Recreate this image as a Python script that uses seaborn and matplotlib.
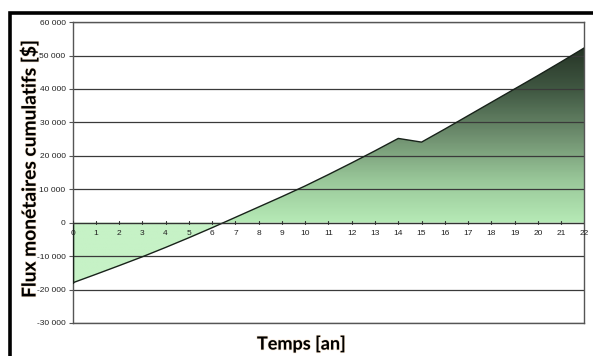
import numpy as np
import pandas as pd
import matplotlib
matplotlib.use("Agg")
import matplotlib.pyplot as plt
import matplotlib.patheffects as pe
import seaborn as sns
from matplotlib.colors import LinearSegmentedColormap, to_rgb
from matplotlib.patches import Rectangle
from matplotlib.ticker import FuncFormatter

# cumulative cash flow per year
years = list(range(0, 23))
cumul = [-18000, -15450, -12850, -10200, -7400, -4500, -1500, 1600, 4700, 7800,
         11000, 14400, 17900, 21500, 25200, 24100, 28000, 32000, 36000, 40000,
         44000, 48100, 52300]
y_ticks = [-30000, -20000, -10000, 0, 10000, 20000, 30000, 40000, 50000, 60000]

df = pd.DataFrame({"annee": years, "flux": cumul})

sns.set_style("white")
plt.rcParams['font.family'] = ['Liberation Sans', 'DejaVu Sans']

fig = plt.figure(figsize=(5.93, 3.56), dpi=100)
ax = fig.add_axes([0.1223, 0.0927, 0.8632, 0.8453])

# outer black frame
fig.patches.append(Rectangle((0.017, -0.05), 1.1, 1.05 - 13 / 356, transform=fig.transFigure,
                             fill=False, edgecolor='black', linewidth=2.6, zorder=0))

ax.set_xlim(0, 22)
ax.set_ylim(-30000, 60000)

# gradient fill under the curve
ny = 400
yy = np.linspace(-30000, 60000, ny)
cmap = LinearSegmentedColormap.from_list("vert", ["#b6eab6", "#98c698", "#6e8e6e", "#425a44", "#263426"])
top = max(cumul)
img = np.zeros((ny, 2, 3))
for i, v in enumerate(yy):
    if v < 0:
        c = to_rgb("#c6f2c6")
    else:
        c = cmap(min(v / top, 1.0))[:3]
    img[i, :, :] = c
im = ax.imshow(img, extent=[0, 22, -30000, 60000], origin='lower', aspect='auto', zorder=1,
               interpolation='bilinear')
poly = ax.fill_between(df["annee"], 0, df["flux"], color='none', linewidth=0)
clip = poly.get_paths()[0]
im.set_clip_path(clip, transform=ax.transData)

# grid lines
for t in y_ticks:
    if t != 0:
        ax.axhline(t, color='#3a3a3a', linewidth=0.9, zorder=2)

sns.lineplot(data=df, x="annee", y="flux", color='#18221a', linewidth=1.0, ax=ax, zorder=4)
ax.plot([0, 0], [cumul[0], 0], color='#18221a', linewidth=1.0, zorder=4)

# x axis drawn on zero line
ax.axhline(0, color='#333333', linewidth=1.0, zorder=5)
ax.set_xticks(years)
ax.set_xticklabels([])
for x in years:
    ax.plot([x, x], [-500, 500], color='#333333', linewidth=0.8, zorder=5)
    ax.text(x, -2300, str(x), ha='center', va='top', fontsize=6, color='#222222', zorder=6)
ax.tick_params(axis='x', length=0)

ax.set_yticks(y_ticks)
ax.yaxis.set_major_formatter(FuncFormatter(lambda v, p: f"{int(v):,}".replace(",", " ")))
ax.tick_params(axis='y', labelsize=6, length=3, width=0.8, color='#555555', labelcolor='#222222', pad=2, left=True)

for s in ax.spines.values():
    s.set_color('#555555')
    s.set_linewidth(1.0)

ax.set_xlabel("")
ax.set_ylabel("")
glow = [pe.withStroke(linewidth=1.0, foreground='#e8b070', alpha=0.3)]
fig.text(0.049, 0.525, "Flux monétaires cumulatifs [$]", rotation=90, ha='center', va='center',
         fontsize=13.8, fontweight='bold', color='black', family=['Lato', 'DejaVu Sans'],
         path_effects=glow)
fig.text(0.508, 0.035, "Temps [an]", ha='center', va='center',
         fontsize=13, fontweight='bold', color='black', family=['Lato', 'DejaVu Sans'],
         path_effects=glow)

fig.savefig("out.png", dpi=100)
